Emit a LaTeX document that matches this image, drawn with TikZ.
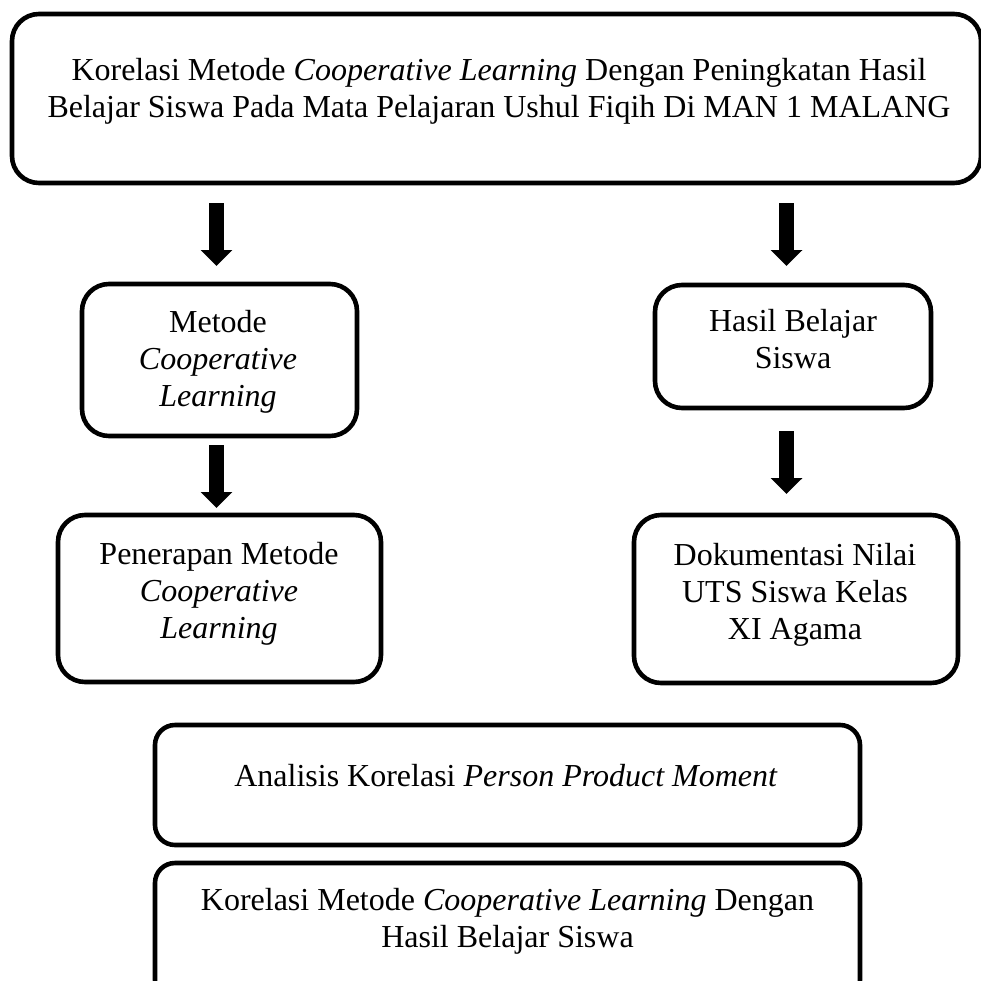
\documentclass[tikz,border=0pt]{standalone}
\usepackage{fontspec}
\setmainfont{Liberation Serif}
\usetikzlibrary{arrows.meta}
\tikzset{
  box/.style={draw, line width=2.3pt, rounded corners=13.5pt, inner sep=0pt},
  lowbox/.style={box, rounded corners=10pt},
  txt/.style={inner sep=0pt, anchor=base, align=center, font=\fontsize{16}{18.5}\selectfont},
  bigarrow/.style={line width=7.5pt, -{Triangle[width=15.5pt,length=8pt]}}
}
\begin{document}
\begin{tikzpicture}[x=0.5pt,y=-0.5pt]
\clip (0,0) rectangle (981,981);
\useasboundingbox (0,0) rectangle (981,981);
\fill[white] (0,0) rectangle (981,981);
% boxes
\node[box, minimum width=484.5pt, minimum height=84.5pt] (top) at (496.5,98.5) {};
\node[box, minimum width=137.5pt, minimum height=76pt] (L2) at (219.5,360) {};
\node[box, minimum width=161.5pt, minimum height=83.5pt] (L3) at (219.5,598.5) {};
\node[box, minimum width=138pt, minimum height=61.5pt] (R2) at (793,346.5) {};
\node[box, minimum width=162pt, minimum height=84pt] (R3) at (796,599) {};
\node[lowbox, minimum width=352.5pt, minimum height=60pt] (B1) at (507.5,785) {};
\node[lowbox, minimum width=352.5pt, minimum height=68.5pt] (B2) at (507.5,931.5) {};
% texts (base anchor = baseline of last line)
\node[txt] (ttop) at (499,117) {Korelasi Metode \textit{Cooperative Learning} Dengan Peningkatan Hasil\\Belajar Siswa Pada Mata Pelajaran Ushul Fiqih Di MAN 1 MALANG};
\node[txt] (tL2) at (218,406) {Metode\\\textit{Cooperative}\\\textit{Learning}};
\node[txt] (tL3) at (219,638) {Penerapan Metode\\\textit{Cooperative}\\\textit{Learning}};
\node[txt] (tR2) at (793,368) {Hasil Belajar\\Siswa};
\node[txt] (tR3) at (795,639) {Dokumentasi Nilai\\UTS Siswa Kelas\\XI Agama};
\node[txt] (tB1) at (506,786) {Analisis Korelasi \textit{Person Product Moment}};
\node[txt] (tB2) at (507.5,947) {Korelasi Metode \textit{Cooperative Learning} Dengan\\Hasil Belajar Siswa};
% arrows
\draw[bigarrow] ([xshift=-1.5pt,yshift=-8.85pt]top.south -| L2.north) -- ([xshift=-1.5pt,yshift=7.85pt]L2.north);
\draw[bigarrow] ([xshift=-1.5pt,yshift=-3.35pt]L2.south) -- ([xshift=-1.5pt,yshift=2.35pt]L3.north);
\draw[bigarrow] ([xshift=-3.25pt,yshift=-8.85pt]top.south -| R2.north) -- ([xshift=-3.25pt,yshift=8.35pt]R2.north);
\draw[bigarrow] ([xshift=-3.25pt,yshift=-10.35pt]R2.south) -- ([xshift=-4.75pt,yshift=9.35pt]R3.north);
\end{tikzpicture}
\end{document}
